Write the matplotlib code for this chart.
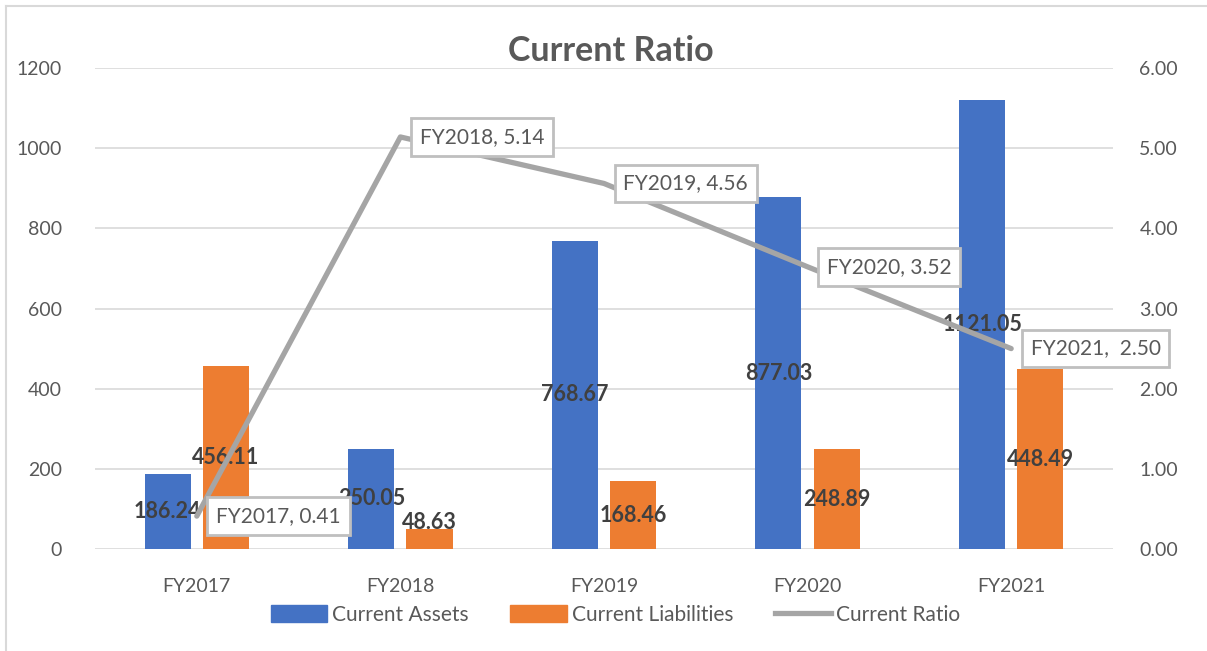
import matplotlib.pyplot as plt
from matplotlib.lines import Line2D
from matplotlib.patches import Patch

plt.rcParams["font.family"] = ["Lato", "DejaVu Sans"]

years = ["FY2017", "FY2018", "FY2019", "FY2020", "FY2021"]
current_assets = [186.24, 250.05, 768.67, 877.03, 1121.05]
current_liabilities = [456.11, 48.63, 168.46, 248.89, 448.49]
current_ratio = [0.41, 5.14, 4.56, 3.52, 2.50]
ratio_labels = ["FY2017, 0.41", "FY2018, 5.14", "FY2019, 4.56", "FY2020, 3.52", "FY2021,  2.50"]

blue = "#4472C4"
orange = "#ED7D31"
grey = "#A5A5A5"
text_dark = "#404040"
text_grey = "#595959"

fig = plt.figure(figsize=(12.07, 6.51), dpi=100)
ax = fig.add_axes([0.0787, 0.1567, 0.8434, 0.7388])
ax2 = ax.twinx()

x = list(range(len(years)))
w = 0.226
off = 0.143
xa = [i - off for i in x]
xl = [i + off for i in x]
ax.bar(xa, current_assets, width=w, color=blue, zorder=2)
ax.bar(xl, current_liabilities, width=w, color=orange, zorder=2)

# bar value labels, centred in bar (small bars pushed up a bit like Excel)
for xi, v in zip(xa, current_assets):
    ax.text(xi, max(v / 2, 65), f"{v:.2f}", ha="center", va="center",
            fontsize=15.5, fontweight="bold", color=text_dark, zorder=5)
for xi, v in zip(xl, current_liabilities):
    ax.text(xi, max(v / 2, 65), f"{v:.2f}", ha="center", va="center",
            fontsize=15.5, fontweight="bold", color=text_dark, zorder=5)

ax.set_ylim(0, 1200)
ax.set_yticks(range(0, 1201, 200))
ax.set_xlim(-0.5, 4.5)
ax.set_xticks(x)
ax.set_xticklabels(years)
ax.grid(axis="y", color="#D9D9D9", linewidth=1.2, zorder=0)
ax.set_axisbelow(True)

ax2.plot(x, current_ratio, color=grey, linewidth=3.8, solid_capstyle="round", zorder=3)
for xi, r, lab in zip(x, current_ratio, ratio_labels):
    ax2.annotate(lab, (xi, r), xytext=(14, 0), textcoords="offset points",
                 ha="left", va="center", fontsize=15, color=text_grey, zorder=6,
                 bbox=dict(boxstyle="square,pad=0.42", fc="white", ec="#BFBFBF", lw=2))
ax2.set_ylim(0, 6)
ax2.set_yticks([0, 1, 2, 3, 4, 5, 6])
ax2.set_yticklabels([f"{v:.2f}" for v in [0, 1, 2, 3, 4, 5, 6]])

for a in (ax, ax2):
    for s in a.spines.values():
        s.set_visible(False)
    a.tick_params(length=0, labelsize=14, labelcolor=text_grey)
ax.tick_params(axis="y", pad=24)
ax.tick_params(axis="x", pad=21)
ax2.tick_params(axis="y", pad=19)

fig.text(0.506, 0.922, "Current Ratio", ha="center", va="center",
         fontsize=24.5, fontweight="bold", color=text_grey)

handles = [Patch(color=blue), Patch(color=orange), Line2D([], [], color=grey, lw=3.8)]
fig.legend(handles, ["Current Assets", "Current Liabilities", "Current Ratio"],
           loc="center", bbox_to_anchor=(0.51, 0.056), ncol=3, frameon=False,
           fontsize=15, labelcolor=text_grey, handlelength=2.7, handleheight=0.85,
           handletextpad=0.25, columnspacing=2.0)

# outer chart frame (left and top edge of the screenshot)
fig.add_artist(Line2D([0.005, 0.005], [0, 0.991], color="#D9D9D9", lw=1.5, transform=fig.transFigure))
fig.add_artist(Line2D([0.005, 1.0], [0.991, 0.991], color="#D9D9D9", lw=1.5, transform=fig.transFigure))

fig.savefig("out.png", dpi=100)
